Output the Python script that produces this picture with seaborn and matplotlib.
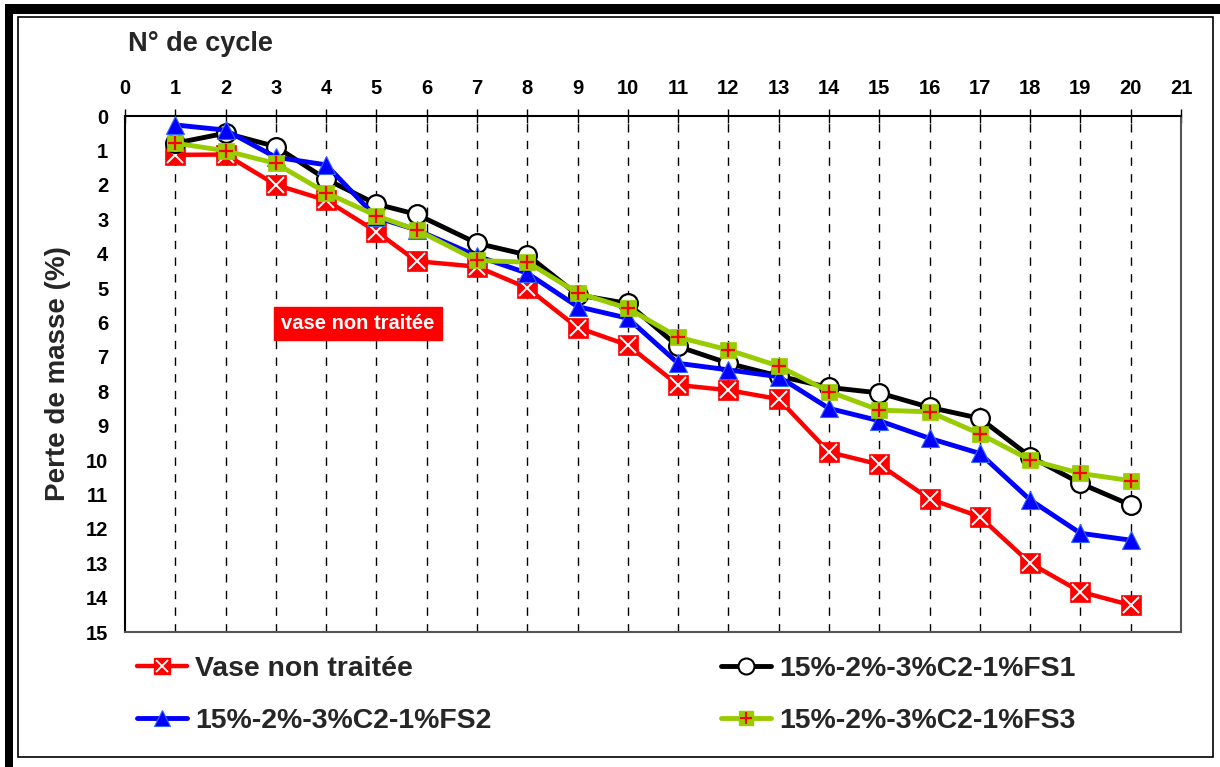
import matplotlib
matplotlib.use('Agg')
import matplotlib.pyplot as plt
import seaborn as sns
import numpy as np
from matplotlib.lines import Line2D
from matplotlib.patches import Rectangle

# cycle number (6th measurement taken slightly before cycle 6)
cycles = [1, 2, 3, 4, 5, 5.8, 7, 8, 9, 10, 11, 12, 13, 14, 15, 16, 17, 18, 19, 20]

vase = [1.13, 1.12, 2.0, 2.45, 3.36, 4.22, 4.38, 5.0, 6.15, 6.66, 7.82, 7.97, 8.23,
        9.77, 10.13, 11.13, 11.65, 13.0, 13.83, 14.22]
fs1 = [0.79, 0.5, 0.89, 1.84, 2.56, 2.86, 3.70, 4.04, 5.2, 5.45, 6.7, 7.19, 7.56,
       7.89, 8.05, 8.47, 8.79, 9.9, 10.68, 11.31]
fs2 = [0.26, 0.41, 1.2, 1.42, 2.95, 3.31, 4.07, 4.57, 5.54, 5.88, 7.19, 7.38, 7.58,
       8.5, 8.86, 9.37, 9.81, 11.16, 12.13, 12.33]
fs3 = [0.79, 1.01, 1.38, 2.23, 2.9, 3.31, 4.2, 4.25, 5.14, 5.59, 6.43, 6.8, 7.27,
       8.01, 8.55, 8.6, 9.24, 10.0, 10.39, 10.6]

labels = ["Vase non traitée", "15%-2%-3%C2-1%FS1", "15%-2%-3%C2-1%FS2", "15%-2%-3%C2-1%FS3"]
green = '#99CC00'

sns.set_style('white')
plt.rcParams['font.family'] = ['Liberation Sans', 'DejaVu Sans']
plt.rcParams['font.weight'] = 'bold'

fig = plt.figure(figsize=(12.2, 7.67), dpi=100)
ax = fig.add_axes([125 / 1220, 1 - 632 / 767, (1181 - 125) / 1220, (632 - 116) / 767])

# series
sns.lineplot(x=cycles, y=vase, ax=ax, color='red', lw=3.2, marker='s', ms=14,
             mec='red', mew=0.5, errorbar=None, sort=False, zorder=3)
sns.lineplot(x=cycles, y=vase, ax=ax, color='white', ls='none', marker='x', ms=11,
             mec='white', mew=1.4, errorbar=None, sort=False, zorder=3.1)

sns.lineplot(x=cycles, y=fs1, ax=ax, color='black', lw=3.5, marker='o', ms=13.5,
             mfc='white', mec='black', mew=1.6, errorbar=None, sort=False, zorder=4)

sns.lineplot(x=cycles, y=fs2, ax=ax, color='#0000FF', lw=3.5, marker='^', ms=13.5,
             mec='#3366FF', mew=0.8, errorbar=None, sort=False, zorder=5)

sns.lineplot(x=cycles, y=fs3, ax=ax, color=green, lw=3.5, marker='s', ms=12,
             mec=green, mew=0.5, errorbar=None, sort=False, zorder=6)
sns.lineplot(x=cycles, y=fs3, ax=ax, color='red', ls='none', marker='+', ms=10,
             mec='red', mew=1.6, errorbar=None, sort=False, zorder=6.1)

# axes
ax.set_xlim(0, 21)
ax.set_ylim(15, 0)
ax.set_xticks(range(0, 22))
ax.set_yticks(range(0, 16))
ax.xaxis.tick_top()
ax.tick_params(axis='x', direction='inout', length=10, width=1, labelsize=14.5,
               colors='black', pad=8)
ax.tick_params(axis='y', direction='out', length=7, width=1, labelsize=14.5,
               colors='black', pad=5)
for lab in ax.get_xticklabels() + ax.get_yticklabels():
    lab.set_fontweight('bold')

for x in range(1, 21):
    ax.axvline(x, color='black', lw=1, ls=(0, (6, 6)), zorder=1)

for s in ax.spines.values():
    s.set_visible(True)
    s.set_color('black')
    s.set_linewidth(1.5)
ax.spines['right'].set_color('#555555')
ax.spines['bottom'].set_color('#555555')

ax.set_ylabel("Perte de masse (%)", fontsize=20, fontweight='bold', labelpad=11)
fig.text(128 / 1220, 1 - 44 / 767, "N° de cycle", fontsize=19.5, fontweight='bold',
         ha='left', va='center')

ax.text(4.63, 6.02, "vase non traitée", color='white', fontsize=14.5, fontweight='bold',
        ha='center', va='center', zorder=7,
        bbox=dict(boxstyle='square,pad=0.35', fc='red', ec='red'))

# legend
h_vase = (Line2D([], [], color='red', lw=3.2, marker='s', ms=12, mec='red'),
          Line2D([], [], color='white', ls='none', marker='x', ms=9, mew=1.3))
h_fs1 = Line2D([], [], color='black', lw=3.5, marker='o', ms=11.5, mfc='white', mec='black', mew=1.5)
h_fs2 = Line2D([], [], color='#0000FF', lw=3.5, marker='^', ms=12, mec='#3366FF', mew=0.8)
h_fs3 = (Line2D([], [], color=green, lw=3.5, marker='s', ms=10.5, mec=green),
         Line2D([], [], color='red', ls='none', marker='+', ms=9, mew=1.5))

fig.legend([h_vase, h_fs2, h_fs1, h_fs3], [labels[0], labels[2], labels[1], labels[3]],
           ncol=2, loc='upper left', bbox_to_anchor=(137 / 1220, 1 - 656 / 767),
           frameon=False, handlelength=1.75, handletextpad=0.3,
           columnspacing=8.1, labelspacing=0.9, borderpad=0, borderaxespad=0,
           prop={'weight': 'bold', 'size': 20.4})

# chart frame
fig.add_artist(Rectangle((18 / 1220, 1 - 757 / 767), (1213 - 18) / 1220, (757 - 17) / 767,
                         transform=fig.transFigure, fill=False, ec='black', lw=1.2))
fig.add_artist(Rectangle((5 / 1220, 0), 8 / 1220, 1 - 4 / 767,
                         transform=fig.transFigure, fc='black', ec='none'))
fig.add_artist(Rectangle((5 / 1220, 1 - 14 / 767), 1215 / 1220, 10 / 767,
                         transform=fig.transFigure, fc='black', ec='none'))

fig.savefig('out.png', dpi=100)
